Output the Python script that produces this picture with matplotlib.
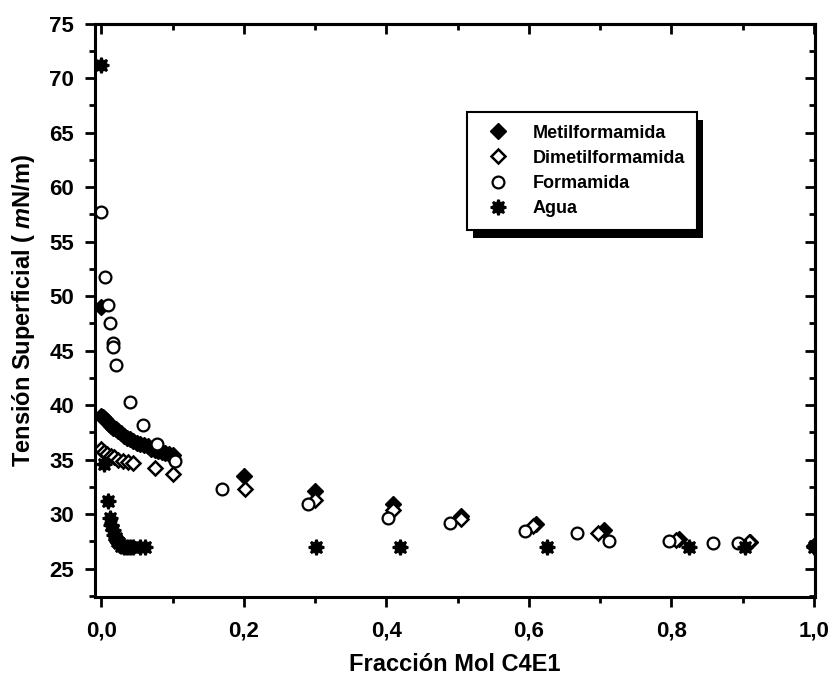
import numpy as np
import matplotlib
matplotlib.use('Agg')
import matplotlib.pyplot as plt
from matplotlib.patches import Rectangle
from matplotlib.transforms import IdentityTransform
from matplotlib.ticker import MultipleLocator, FuncFormatter, NullFormatter

# Daten
metil_x = [0.0, 0.0, 0.002, 0.005, 0.008, 0.011, 0.014, 0.017, 0.02, 0.024, 0.028, 0.032,
           0.036, 0.04, 0.045, 0.05, 0.055, 0.06, 0.065, 0.07, 0.075, 0.08, 0.085,
           0.09, 0.095, 0.1, 0.2, 0.3, 0.41, 0.505, 0.61, 0.705, 0.81, 0.91, 1.0]
metil_y = [49.0, 39.0, 38.9, 38.7, 38.5, 38.3, 38.1, 37.9, 37.8, 37.6, 37.4, 37.2,
           37.0, 36.9, 36.7, 36.5, 36.4, 36.3, 36.2, 36.0, 35.9, 35.8, 35.7,
           35.6, 35.5, 35.4, 33.5, 32.1, 30.9, 29.8, 29.1, 28.5, 27.7, 27.4, 27.1]

dimetil_x = [0.0, 0.004, 0.008, 0.013, 0.018, 0.024, 0.03, 0.038, 0.045, 0.075, 0.1,
             0.202, 0.3, 0.41, 0.505, 0.606, 0.697, 0.807, 0.909, 1.0]
dimetil_y = [36.0, 35.7, 35.5, 35.3, 35.2, 35.0, 34.9, 34.8, 34.7, 34.2, 33.7,
             32.3, 31.3, 30.4, 29.5, 28.9, 28.3, 27.6, 27.4, 27.1]

forma_x = [0.0, 0.005, 0.01, 0.012, 0.016, 0.017, 0.02, 0.041, 0.059, 0.078, 0.103,
           0.17, 0.29, 0.402, 0.49, 0.594, 0.668, 0.713, 0.797, 0.858, 0.893]
forma_y = [57.7, 51.8, 49.2, 47.5, 45.7, 45.3, 43.7, 40.3, 38.2, 36.4, 34.9,
           32.3, 30.9, 29.6, 29.2, 28.4, 28.3, 27.5, 27.5, 27.3, 27.3]

agua_x = [0.0, 0.004, 0.009, 0.012, 0.014, 0.016, 0.018, 0.02, 0.022, 0.025, 0.028,
          0.032, 0.036, 0.04, 0.045, 0.055, 0.062, 0.302, 0.419, 0.626, 0.824, 0.903, 1.0]
agua_y = [71.2, 34.6, 31.2, 29.6, 29.0, 28.5, 28.1, 27.8, 27.5, 27.3, 27.1,
          27.0, 27.0, 27.0, 27.0, 27.0, 27.0, 27.0, 27.0, 27.0, 27.0, 27.0, 27.0]

fam = ['Liberation Sans', 'DejaVu Sans']
plt.rcParams['font.family'] = fam
plt.rcParams['font.weight'] = 'bold'
plt.rcParams['mathtext.fontset'] = 'custom'
plt.rcParams['mathtext.it'] = 'Liberation Sans:italic:bold'
plt.rcParams['mathtext.rm'] = 'Liberation Sans:bold'

fig = plt.figure(figsize=(8.32, 6.79), dpi=100)
ax = fig.add_axes([0.114, 0.121, 0.866, 0.844])

ax.plot(metil_x, metil_y, 'D', color='black', markersize=8, markeredgewidth=1,
        linestyle='none', label='Metilformamida')
ax.plot(dimetil_x, dimetil_y, 'D', markerfacecolor='white', markeredgecolor='black',
        markersize=7.5, markeredgewidth=1.8, linestyle='none', label='Dimetilformamida')
ax.plot(forma_x, forma_y, 'o', markerfacecolor='white', markeredgecolor='black',
        markersize=8.5, markeredgewidth=1.6, linestyle='none', label='Formamida')
ax.plot(agua_x, agua_y, marker=(8, 1, 0), color='black', markersize=11,
        markeredgewidth=1.8, linestyle='none', label='Agua')

ax.set_xlim(-0.009, 1.002)
ax.set_ylim(22.4, 75)

ax.xaxis.set_major_locator(MultipleLocator(0.2))
ax.xaxis.set_minor_locator(MultipleLocator(0.1))
ax.yaxis.set_major_locator(MultipleLocator(5))
ax.yaxis.set_minor_locator(MultipleLocator(2.5))
ax.xaxis.set_major_formatter(FuncFormatter(lambda v, p: f'{v:.1f}'.replace('.', ',')))

for s in ax.spines.values():
    s.set_linewidth(2.2)

ax.tick_params(which='both', direction='out', width=2, labelsize=16)
ax.tick_params(which='major', length=7)
ax.tick_params(which='minor', length=4)
ax.tick_params(axis='x', which='major', pad=10)
ax.tick_params(axis='y', which='major', pad=8)

# Ticks oben und rechts nach innen
top = ax.secondary_xaxis('top')
top.xaxis.set_major_locator(MultipleLocator(0.2))
top.xaxis.set_minor_locator(MultipleLocator(0.1))
top.xaxis.set_major_formatter(NullFormatter())
right = ax.secondary_yaxis('right')
right.yaxis.set_major_locator(MultipleLocator(5))
right.yaxis.set_minor_locator(MultipleLocator(2.5))
right.yaxis.set_major_formatter(NullFormatter())
for sec in (top, right):
    sec.tick_params(which='both', direction='in', width=2)
    sec.tick_params(which='major', length=7)
    sec.tick_params(which='minor', length=4)
    for s in sec.spines.values():
        s.set_linewidth(2.2)

ax.set_xlabel('Fracción Mol C4E1', fontsize=17, fontweight='bold', labelpad=8)
ax.set_ylabel(r'Tensión Superficial ( $m$N/m)', fontsize=17, fontweight='bold',
              labelpad=9)

leg = ax.legend(loc='upper left', bbox_to_anchor=(0.517, 0.846), borderaxespad=0,
                frameon=True, fancybox=False, edgecolor='black', facecolor='white',
                framealpha=1, handletextpad=0.9, labelspacing=0.45, borderpad=0.7,
                prop={'family': fam, 'weight': 'bold', 'size': 13})
leg.get_frame().set_linewidth(1.5)
leg.set_zorder(5)

# Schatten der Legende
fig.canvas.draw()
bb = leg.get_window_extent()
shadow = Rectangle((bb.x0 + 6, bb.y0 - 8), bb.width, bb.height,
                   facecolor='black', edgecolor='none', zorder=4, clip_on=False)
shadow.set_transform(IdentityTransform())
ax.add_artist(shadow)

plt.savefig('out.png', dpi=100)
